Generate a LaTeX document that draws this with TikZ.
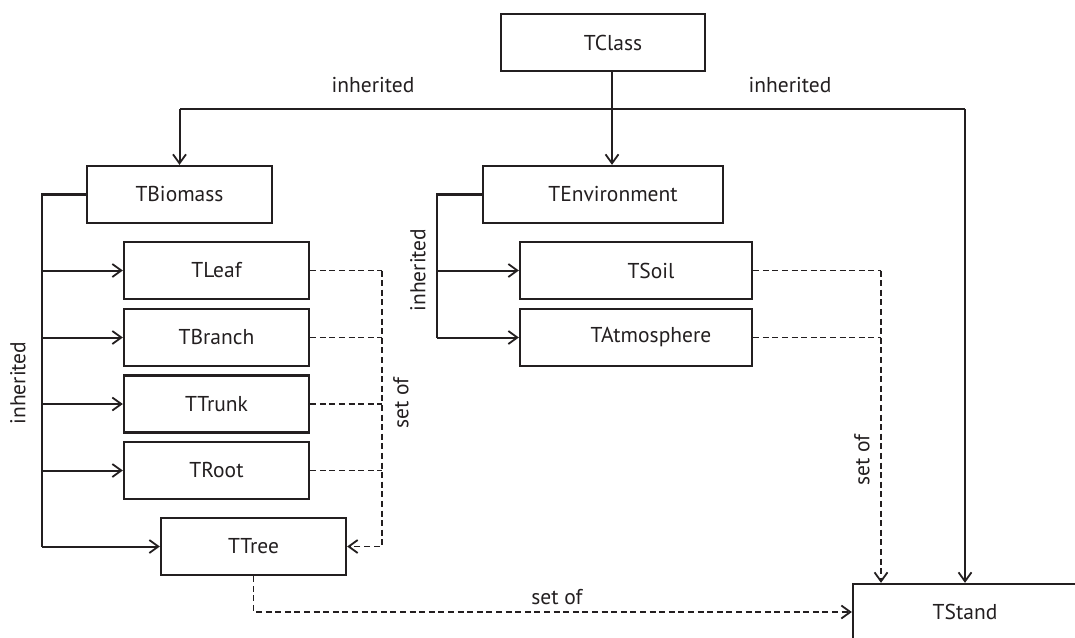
\documentclass[tikz,border=0pt]{standalone}
\usepackage{fontspec}
\setmainfont{PT Sans}
\usetikzlibrary{arrows.meta}
\definecolor{ink}{HTML}{231F20}
\begin{document}
\begin{tikzpicture}[x=1pt,y=-1pt,
  font=\fontsize{21.5}{25}\selectfont,
  every node/.style={text=ink},
  cls/.style={draw=ink,line width=2.3pt,rectangle,minimum height=57pt,inner sep=0pt,anchor=center},
  tip/.style={-{Straight Barb[length=9pt,width=13pt,line width=1.8pt]}},
  inh/.style={draw=ink,line width=2pt,tip},
  trunk/.style={draw=ink,line width=2.8pt},
  setof/.style={draw=ink,line width=1.6pt,dash pattern=on 6pt off 3.6pt,tip},
  lbl/.style={inner sep=0pt}]
\useasboundingbox (0,0) rectangle (1075,637);

% classes
\node[cls,minimum width=204pt] (TClass) at (603,42.5) {\hspace*{20pt}TClass};
\node[cls,minimum width=185pt] (TBiomass) at (179.5,194.5) {TBiomass};
\node[cls,minimum width=240pt] (TEnv) at (603,194.5) {\hspace*{20pt}TEnvironment};
\node[cls,minimum width=185pt] (TLeaf) at (216.5,270.5) {TLeaf};
\node[cls,minimum width=185pt] (TBranch) at (216.5,337.5) {TBranch};
\node[cls,minimum width=185pt] (TTrunk) at (216.5,404) {TTrunk};
\node[cls,minimum width=185pt] (TRoot) at (216.5,470.5) {TRoot};
\node[cls,minimum width=185pt] (TTree) at (253.5,546.5) {TTree};
\node[cls,minimum width=232pt] (TSoil) at (636,270.5) {\hspace*{30pt}TSoil};
\node[cls,minimum width=232pt] (TAtm) at (636,337.5) {\hspace*{30pt}TAtmosphere};
\node[cls,minimum width=224pt,minimum height=56pt] (TStand) at (965,612) {TStand};

% routing points
\coordinate (busTop) at (612,109);
\coordinate (bioBus) at (42,0);
\coordinate (envBus) at (437,0);
\coordinate (partBus) at (382,0);
\coordinate (envSet) at (881,0);
\coordinate (treeLine) at (0,612);

% inheritance from TClass
\draw[inh] (TClass.south -| busTop) -- (TEnv.north -| busTop);
\draw[trunk] (busTop) -- (TBiomass.north |- busTop);
\draw[trunk] (busTop) -- (TStand.north |- busTop);
\draw[inh] (TBiomass.north |- busTop) -- (TBiomass.north);
\draw[inh] (TStand.north |- busTop) -- (TStand.north);

% inheritance from TBiomass
\draw[trunk] (TBiomass.west) -| (bioBus |- TTree.west);
\foreach \n in {TLeaf,TBranch,TTrunk,TRoot,TTree}
  \draw[inh] (bioBus |- \n.west) -- (\n.west);

% inheritance from TEnvironment
\draw[trunk] (TEnv.west) -| (envBus |- TAtm.west);
\foreach \n in {TSoil,TAtm}
  \draw[inh] (envBus |- \n.west) -- (\n.west);

% aggregation into TTree
\foreach \n in {TLeaf,TBranch,TTrunk,TRoot}
  \draw[setof,-] (\n.east) -- (partBus |- \n.east);
\draw[setof] (partBus |- TLeaf.east) -- (partBus |- TTree.east) -- (TTree.east);

% aggregation into TStand
\draw[setof,-] (TSoil.east) -- (envSet |- TSoil.east);
\draw[setof,-] (TAtm.east) -- (envSet |- TAtm.east);
\draw[setof] (envSet |- TSoil.east) -- (envSet |- TStand.north);
\draw[setof] (TTree.south) -- (TTree.south |- treeLine) -- (TStand.west |- treeLine);

% labels
\node[lbl] (l1) at (373,85) {inherited};
\node[lbl] (l2) at (790,85) {inherited};
\node[lbl,rotate=90] (l3) at (18,383) {inherited};
\node[lbl,rotate=90] (l4) at (418,270) {inherited};
\node[lbl,rotate=90] (l5) at (401,403) {set of};
\node[lbl,rotate=90] (l6) at (862,460) {set of};
\node[lbl] (l7) at (557,597) {set of};
\end{tikzpicture}
\end{document}
